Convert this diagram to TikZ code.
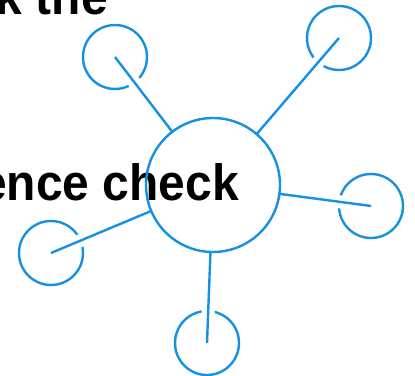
\documentclass[tikz,border=0pt]{standalone}
\usepackage{fontspec}
\setmainfont{Liberation Sans}
\definecolor{hubblue}{RGB}{22,144,226}
\tikzset{
  ring/.style={circle, draw=hubblue, line width=2.4pt, inner sep=0pt, minimum size=#1},
  spoke/.style={draw=hubblue, line width=2.4pt,
    preaction={draw=white, line width=13pt}},
  label/.style={font=\bfseries\fontsize{51}{55}\selectfont, inner sep=0pt, text=black, xscale=0.94},
}
\begin{document}
\begin{tikzpicture}[x=1pt, y=-1pt]
  \useasboundingbox[fill=white] (0,0) rectangle (415,375);
  % hub position (its ring is drawn last, over the text)
  \coordinate (hub) at (213,185);
  % outer rings
  \node[ring=64pt] (n1) at (115,57) {};
  \node[ring=64pt] (n2) at (339,38) {};
  \node[ring=64pt] (n3) at (371,206) {};
  \node[ring=64pt] (n4) at (207,343) {};
  \node[ring=64pt] (n5) at (51,253) {};
  % invisible hub node, so spokes stop at its rim
  \node[circle, minimum size=134pt, inner sep=0pt] (hubnode) at (hub) {};
  % spokes, each cutting a gap in its outer ring
  \foreach \n in {n1,n2,n3,n4,n5}
    \path[spoke] (\n.center) -- (hubnode);
  % text lines
  \node[label, anchor=base east] (t1) at (108,14) {k the};
  \node[label, anchor=base east] (t2) at (239,200) {ence check};
  % hub ring
  \node[ring=134pt] at (hub) {};
\end{tikzpicture}
\end{document}
